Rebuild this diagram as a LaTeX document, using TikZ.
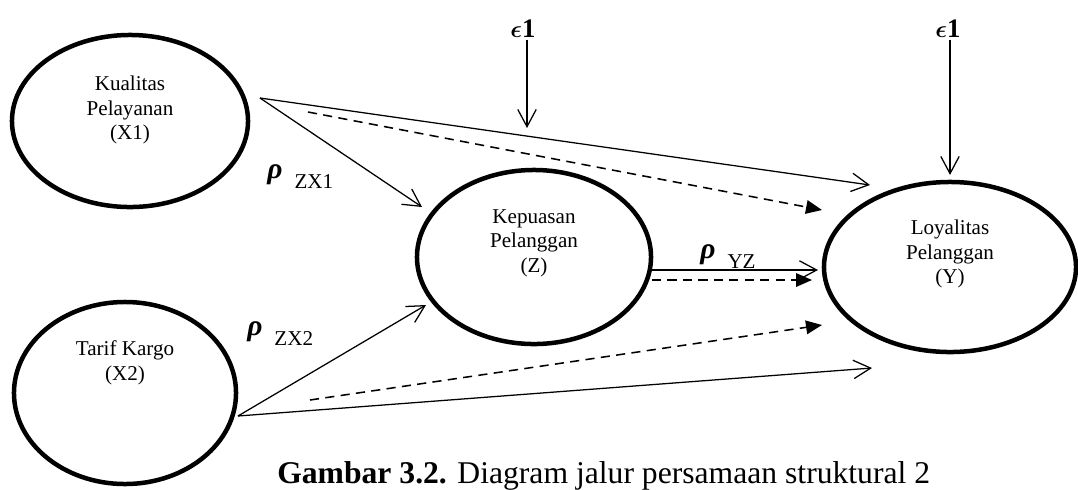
\documentclass[tikz,border=0pt]{standalone}
\usepackage{fontspec}
\setmainfont{Liberation Serif}
\usepackage{tikz}
\usetikzlibrary{positioning,arrows.meta,shapes.geometric}

\begin{document}
\begin{tikzpicture}[x=0.025cm,y=-0.025cm,
  latent/.style={draw,ellipse,line width=3.2pt,inner sep=0pt},
  vartext/.style={align=center,inner sep=0pt,
                  font=\fontsize{15}{17.5}\selectfont},
  coef/.style={anchor=base west,inner sep=0pt,font=\fontsize{15}{18}\selectfont},
  errlab/.style={inner sep=1pt,font=\fontsize{19}{22}\selectfont\bfseries\boldmath},
  barb/.style={-{Straight Barb[length=4.3mm,width=4.6mm]},line width=0.9pt},
  dasharr/.style={-{Triangle[length=4mm,width=3.4mm]},line width=1.1pt,
                  dash pattern=on 6.5pt off 4.5pt}]
  \useasboundingbox[fill=white] (0,0) rectangle (1078,489);
  % latent variables
  \node[latent,minimum width=5.9cm,minimum height=4.3cm] (x1) at (130,121) {};
  \node[vartext] (x1t) at ([yshift=0.275cm]x1.center) {Kualitas\\Pelayanan\\(X1)};
  \node[latent,minimum width=5.55cm,minimum height=4.55cm] (x2) at (125,393) {};
  \node[vartext] (x2t) at ([yshift=0.75cm]x2.center) {Tarif Kargo\\(X2)};
  \node[latent,minimum width=5.85cm,minimum height=4.35cm] (z) at (534,257) {};
  \node[vartext] (zt) at ([yshift=0.35cm]z.center) {Kepuasan\\Pelanggan\\(Z)};
  \node[latent,minimum width=6.3cm,minimum height=4.25cm] (y) at (950,267) {};
  \node[vartext] (yt) at ([yshift=0.325cm]y.center) {Loyalitas\\Pelanggan\\(Y)};
  % error terms
  \node[errlab] (eps1) at (523,29) {$\epsilon$1};
  \node[errlab] (eps2) at (948,29) {$\epsilon$1};
  % path coefficients
  \newcommand{\rhosym}{\raisebox{7pt}{\fontsize{21}{21}\selectfont\bfseries\itshape ρ}\hspace{0.3cm}}
  \node[coef] (pzx1) at (267,188) {\rhosym ZX1};
  \node[coef] (pzx2) at (247,345) {\rhosym ZX2};
  \node[coef] (pyz) at (700,268) {\rhosym YZ};
  % caption
  \node[anchor=base west,inner sep=0pt,font=\fontsize{22.5}{26}\selectfont] (cap)
    at (277,483) {\textbf{Gambar 3.2.} Diagram jalur persamaan struktural 2};
  % end points
  \coordinate (x1s) at (260,98);  \coordinate (x1d) at (308,112);
  \coordinate (x2s) at (238,416); \coordinate (x2d) at (310,400);
  \coordinate (zs) at (652,270);  \coordinate (zd) at (652,280);
  \coordinate (zin1) at (422,207); \coordinate (zin2) at (426,305);
  \coordinate (yin1) at (870,185); \coordinate (yin2) at (822,210);
  \coordinate (yin3) at (818,270); \coordinate (yin4) at (812,280);
  \coordinate (yin5) at (822,325); \coordinate (yin6) at (872,368);
  \coordinate (epsend) at (527,128);
  % paths
  \draw[barb] (x1s) -- (zin1);
  \draw[barb] (x1s) -- (yin1);
  \draw[dasharr] (x1d) -- (yin2);
  \draw[barb] (zs) -- (yin3);
  \draw[dasharr] (zd) -- (yin4);
  \draw[barb] (x2s) -- (zin2);
  \draw[dasharr] (x2d) -- (yin5);
  \draw[barb] (x2s) -- (yin6);
  \draw[barb] (eps1.south -| epsend) -- (epsend);
  \draw[barb] (eps2.south -| y.north) -- ([yshift=0.12cm]y.north);
\end{tikzpicture}
\end{document}
